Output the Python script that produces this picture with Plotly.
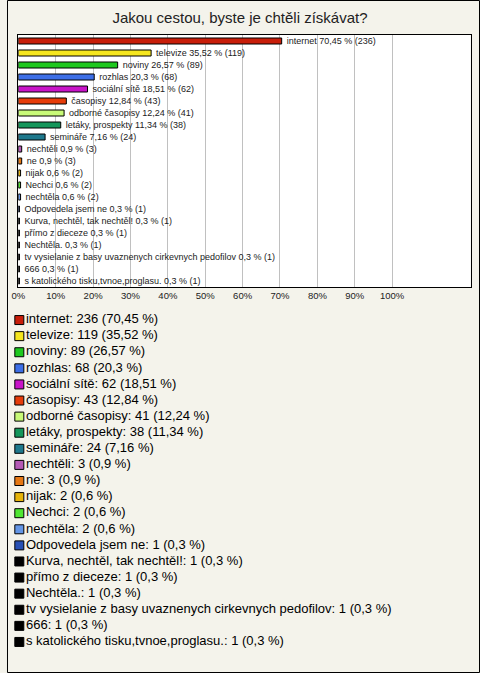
import plotly.graph_objects as go

categories = ["internet", "televize", "noviny", "rozhlas", "sociální sítě", "časopisy",
              "odborné časopisy", "letáky, prospekty", "semináře", "nechtěli", "ne", "nijak",
              "Nechci", "nechtěla", "Odpovedela jsem ne", "Kurva, nechtěl, tak nechtěl!",
              "přímo z dieceze", "Nechtěla.", "tv vysielanie z basy uvaznenych cirkevnych pedofilov",
              "666", "s katolického tisku,tvnoe,proglasu."]
counts = [236, 119, 89, 68, 62, 43, 41, 38, 24, 3, 3, 2, 2, 2, 1, 1, 1, 1, 1, 1, 1]
percents = [70.45, 35.52, 26.57, 20.3, 18.51, 12.84, 12.24, 11.34, 7.16, 0.9, 0.9, 0.6,
            0.6, 0.6, 0.3, 0.3, 0.3, 0.3, 0.3, 0.3, 0.3]
colors = ["#c81e0a", "#f5e61e", "#1ec81e", "#3c6ee6", "#c814c8", "#e63c0a", "#c8fa78",
          "#14965a", "#1e788c", "#b45ab4", "#e67814", "#e6b40a", "#50e632", "#6496e6",
          "#2850b4", "#000000", "#000000", "#000000", "#000000", "#000000", "#000000"]
tick_vals = [0, 10, 20, 30, 40, 50, 60, 70, 80, 90, 100]
tick_text = ["0%", "10%", "20%", "30%", "40%", "50%", "60%", "70%", "80%", "90%", "100%"]
title = "Jakou cestou, byste je chtěli získávat?"


def fmt(p):
    return str(p).replace(".", ",")


bar_labels = [f"  {c} {fmt(p)} % ({n})" for c, p, n in zip(categories, percents, counts)]
legend_labels = [f"{c}: {n} ({fmt(p)} %)" for c, p, n in zip(categories, percents, counts)]

W, H = 480, 673
BG = "#f4f3eb"
FONT = "Liberation Sans, Arial, sans-serif"

fig = go.Figure()
fig.add_trace(go.Bar(
    x=percents, y=categories, orientation="h",
    marker=dict(color=colors, line=dict(color="#000000", width=1)),
    width=0.5,
    text=bar_labels, textposition="outside", constraintext="none",
    textfont=dict(family=FONT, size=9, color="#222222"),
    cliponaxis=False, hoverinfo="skip", showlegend=False,
    xaxis="x", yaxis="y",
))

# legend drawn as a scatter on its own axes
fig.add_trace(go.Scatter(
    x=[0] * len(categories), y=list(range(len(categories))),
    mode="markers+text",
    marker=dict(symbol="square", size=9, color=colors, line=dict(color="#000000", width=1)),
    text=legend_labels, textposition="middle right",
    textfont=dict(family=FONT, size=13, color="#000000"),
    cliponaxis=False, hoverinfo="skip", showlegend=False,
    xaxis="x2", yaxis="y2",
))

fig.update_layout(
    width=W, height=H,
    margin=dict(l=0, r=0, t=0, b=0),
    paper_bgcolor=BG, plot_bgcolor="rgba(0,0,0,0)",
    showlegend=False,
    title=dict(text=title, x=0.5, xanchor="center", y=1 - 18 / H, yanchor="middle",
               font=dict(family=FONT, size=15, color="#222222")),
    xaxis=dict(domain=[11.5 / W, 470.5 / W], range=[0, 121], tickvals=tick_vals, ticktext=tick_text,
               showgrid=True, gridcolor="#c0c0c0", gridwidth=1, zeroline=False,
               showline=True, linecolor="#000000", linewidth=1, mirror=True,
               ticks="", tickfont=dict(family=FONT, size=9.5, color="#222222"),
               anchor="y", fixedrange=True),
    yaxis=dict(domain=[1 - 287 / H, 1 - 35 / H], autorange="reversed", showticklabels=False,
               showgrid=False, zeroline=False, showline=True, linecolor="#000000", linewidth=1,
               mirror=True, ticks="", anchor="x", fixedrange=True),
    xaxis2=dict(domain=[0, 1], range=[-12.5, W - 12.5], visible=False, showgrid=False,
                zeroline=False, anchor="y2", fixedrange=True),
    yaxis2=dict(domain=[1 - 650 / H, 1 - 312 / H], range=[len(categories) - 0.5, -0.5],
                visible=False, showgrid=False, zeroline=False, anchor="x2", fixedrange=True),
    shapes=[
        dict(type="rect", xref="paper", yref="paper", x0=11.5 / W, x1=470.5 / W,
             y0=1 - 287 / H, y1=1 - 35 / H, line=dict(width=0),
             fillcolor="#ffffff", layer="below"),
        dict(type="rect", xref="paper", yref="paper", x0=0.5 / W, x1=1 - 0.5 / W,
             y0=0.5 / H, y1=1 - 0.5 / H, line=dict(color="#000000", width=1),
             fillcolor="rgba(0,0,0,0)", layer="above"),
    ],
)

fig.write_html("out.html", config={"displayModeBar": False, "staticPlot": True},
               post_script="document.body.style.margin='0';document.body.style.overflow='hidden';")
